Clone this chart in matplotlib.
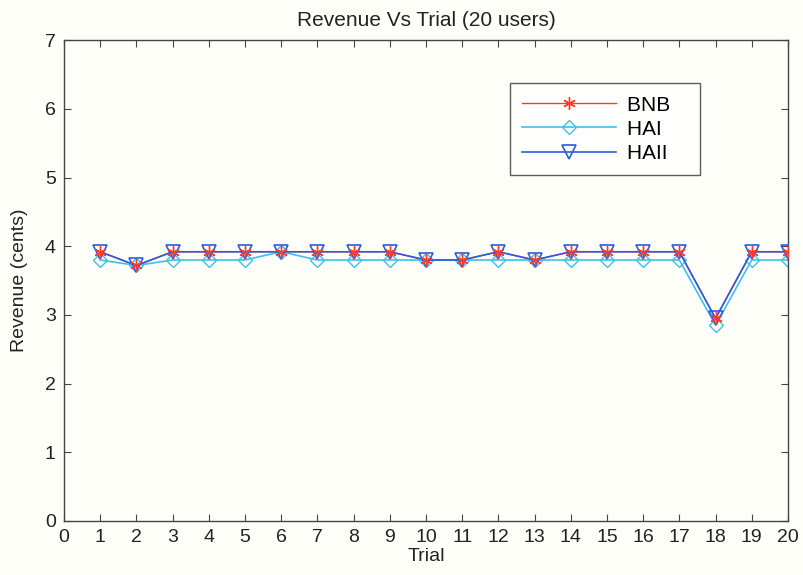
import numpy as np
import matplotlib.pyplot as plt
from matplotlib.lines import Line2D

plt.rcParams['font.family'] = ['Liberation Sans', 'DejaVu Sans']

trials = list(range(1, 21))
bnb = [3.92, 3.72, 3.92, 3.92, 3.92, 3.92, 3.92, 3.92, 3.92, 3.8,
       3.8, 3.92, 3.8, 3.92, 3.92, 3.92, 3.92, 2.95, 3.92, 3.92]
hai = [3.8, 3.72, 3.8, 3.8, 3.8, 3.92, 3.8, 3.8, 3.8, 3.8,
       3.8, 3.8, 3.8, 3.8, 3.8, 3.8, 3.8, 2.85, 3.8, 3.8]
haii = [3.92, 3.72, 3.92, 3.92, 3.92, 3.92, 3.92, 3.92, 3.92, 3.8,
        3.8, 3.92, 3.8, 3.92, 3.92, 3.92, 3.92, 2.95, 3.92, 3.92]

fig = plt.figure(figsize=(8.04, 5.75), dpi=100)
fig.patch.set_facecolor('#fffffa')
ax = fig.add_axes([0.0796, 0.094, 0.9004, 0.836])
ax.set_facecolor('#fffffa')

# lines first, red asterisks on top like the original
ax.plot(trials, bnb, color='#ff3a2a', lw=1.0, zorder=2)
ax.plot(trials, hai, color='#40c0e8', lw=1.2, marker='D', ms=7,
        mfc='none', mec='#40c0e8', mew=1.0, zorder=2)
ax.plot(trials, haii, color='#2a5ee0', lw=1.2, marker='v', ms=10,
        mfc='none', mec='#2a5ee0', mew=1.2, zorder=3)
ax.plot(trials, bnb, ls='none', marker=(6, 2, 0), ms=9,
        mec='#ff3a2a', mew=1.0, zorder=4)

ax.set_xlim(0, 20)
ax.set_ylim(0, 7)
ax.set_xticks(range(0, 21))
ax.set_yticks(range(0, 8))
ax.tick_params(direction='in', length=5, labelsize=14, top=True, right=True,
               color='#444444', labelcolor='#222222', pad=6)
for s in ax.spines.values():
    s.set_color('#444444')
    s.set_linewidth(1.0)

ax.set_title('Revenue Vs Trial (20 users)', fontsize=15, color='#222222', pad=10)
ax.set_xlabel('Trial', fontsize=14, color='#222222', labelpad=1)
ax.set_ylabel('Revenue (cents)', fontsize=14, color='#222222', labelpad=12)

handles = [
    Line2D([], [], color='#ff3a2a', lw=1.0, marker=(6, 2, 0), ms=9, mew=1.0),
    Line2D([], [], color='#40c0e8', lw=1.2, marker='D', ms=7, mfc='none', mew=1.0),
    Line2D([], [], color='#2a5ee0', lw=1.2, marker='v', ms=10, mfc='none', mew=1.2),
]
leg = ax.legend(handles, ['BNB   ', 'HAI   ', 'HAII   '],
                loc='upper left', bbox_to_anchor=(0.616, 0.911),
                borderaxespad=0, fontsize=15, frameon=True, fancybox=False,
                handlelength=4.5, borderpad=0.6, labelspacing=0.25,
                handletextpad=0.5)
leg.get_frame().set_edgecolor('#333333')
leg.get_frame().set_facecolor('#ffffff')
leg.get_frame().set_linewidth(1.0)

fig.savefig('out.png', dpi=100, facecolor=fig.get_facecolor())
